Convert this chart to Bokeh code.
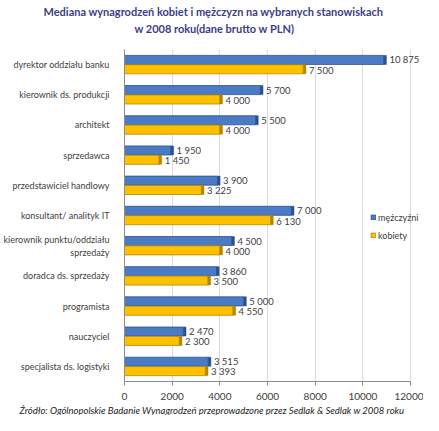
from bokeh.plotting import figure
from bokeh.models import (ColumnDataSource, Range1d, FactorRange, Legend,
                          LegendItem, NumeralTickFormatter, Title)
from bokeh.transform import dodge
from bokeh.core.properties import value
from bokeh.embed import file_html
from bokeh.resources import INLINE

# ---- data ----
categories = [
    "dyrektor oddziału banku",
    "kierownik ds. produkcji",
    "architekt",
    "sprzedawca",
    "przedstawiciel handlowy",
    "konsultant/ analityk IT",
    "kierownik punktu/oddziału\nsprzedaży",
    "doradca ds. sprzedaży",
    "programista",
    "nauczyciel",
    "specjalista ds. logistyki",
]
men = [10875, 5700, 5500, 1950, 3900, 7000, 4500, 3860, 5000, 2470, 3515]
women = [7500, 4000, 4000, 1450, 3225, 6130, 4000, 3500, 4550, 2300, 3393]
series_names = ["mężczyźni", "kobiety"]
x_ticks = [0, 2000, 4000, 6000, 8000, 10000, 12000]
title_lines = ["Mediana wynagrodzeń kobiet i mężczyzn na wybranych stanowiskach",
               "w 2008 roku(dane brutto w PLN)"]
source_text = "Źródło: Ogólnopolskie Badanie Wynagrodzeń przeprowadzone przez Sedlak & Sedlak w 2008 roku"

BLUE = "#4a7bc4"
BLUE_D = "#2b528f"
YEL = "#ffc000"
YEL_D = "#b38600"
FONT = "Lato"

def fmt(v):
    return f"{v:,}".replace(",", " ")

side = 110  # width of simulated 3D side face in data units
src = ColumnDataSource(dict(
    cat=categories,
    men=men, women=women,
    men_side=[v + side for v in men],
    women_side=[v + side for v in women],
    men_lbl=[fmt(v) for v in men],
    women_lbl=[fmt(v) for v in women],
))

# frame spans ~301px; 0..12000 should cover 288px of it
x_end = x_ticks[-1] * 301 / 288

p = figure(width=423, height=415, output_backend="svg", toolbar_location=None,
           title=None,
           x_range=Range1d(0, x_end),
           y_range=FactorRange(*list(reversed(categories)), range_padding=0),
           min_border_left=115, min_border_right=0,
           min_border_top=0, min_border_bottom=0)
p.outline_line_color = None
p.background_fill_color = "white"
p.border_fill_color = "white"

p.ygrid.grid_line_color = None
p.xgrid.grid_line_color = "#dcdcdc"
p.xaxis.ticker = x_ticks
p.xaxis.bounds = (x_ticks[0], x_ticks[-1])
p.xaxis.formatter = NumeralTickFormatter(format="0")
p.xaxis.axis_line_color = "#8c8c8c"
p.xaxis.major_tick_line_color = "#8c8c8c"
p.xaxis.major_tick_out = 4
p.xaxis.major_tick_in = 0
p.xaxis.minor_tick_line_color = None
p.xaxis.major_label_text_font = FONT
p.xaxis.major_label_text_font_size = "10px"
p.xaxis.major_label_text_color = "#404040"
p.xaxis.major_label_standoff = 7

p.yaxis.axis_line_color = "#8c8c8c"
p.yaxis.major_tick_line_color = None
p.yaxis.major_label_text_font = FONT
p.yaxis.major_label_text_font_size = "9px"
p.yaxis.major_label_text_color = "#404040"
p.yaxis.major_label_standoff = 9

off = 0.155
h = 0.3
r_m = p.hbar(y=dodge("cat", off, range=p.y_range), left=0, right="men", height=h,
             source=src, fill_color=BLUE, line_color=BLUE_D, line_width=0.8)
p.hbar(y=dodge("cat", off, range=p.y_range), left="men", right="men_side", height=h,
       source=src, fill_color=BLUE_D, line_color=BLUE_D, line_width=0.5)
r_w = p.hbar(y=dodge("cat", -off, range=p.y_range), left=0, right="women", height=h,
             source=src, fill_color=YEL, line_color=YEL_D, line_width=0.8)
p.hbar(y=dodge("cat", -off, range=p.y_range), left="women", right="women_side", height=h,
       source=src, fill_color=YEL_D, line_color=YEL_D, line_width=0.5)

p.text(x="men_side", y=dodge("cat", off, range=p.y_range), text="men_lbl", source=src,
       x_offset=3, text_baseline="middle", text_align="left",
       text_font=value(FONT), text_font_size="9.5px", text_color="#404040")
p.text(x="women_side", y=dodge("cat", -off - 0.03, range=p.y_range), text="women_lbl", source=src,
       x_offset=3, text_baseline="middle", text_align="left",
       text_font=value(FONT), text_font_size="9.5px", text_color="#404040")

legend = Legend(items=[LegendItem(label=series_names[0], renderers=[r_m]),
                       LegendItem(label=series_names[1], renderers=[r_w])],
                location=(246, 140), orientation="vertical",
                padding=0, spacing=6, margin=0, label_standoff=2,
                glyph_width=6, glyph_height=6, label_height=12,
                label_text_font=FONT, label_text_font_size="9px",
                label_text_color="#404040",
                border_line_color=None, background_fill_alpha=0)
p.add_layout(legend, "center")

# titles: the later added one sits further from the frame; first one is a spacer
p.add_layout(Title(text=" ", standoff=0, text_font=FONT, text_font_size="11px"), "above")
p.add_layout(Title(text=title_lines[1], align="left", offset=10, standoff=0,
                   text_font=FONT, text_font_style="bold", text_font_size="11px",
                   text_color="#3c3c8c"), "above")
p.add_layout(Title(text=title_lines[0], align="left", offset=-81, standoff=4,
                   text_font=FONT, text_font_style="bold", text_font_size="11px",
                   text_color="#3c3c8c"), "above")
p.add_layout(Title(text=source_text, align="left", offset=-105, standoff=0,
                   text_font=FONT, text_font_style="italic", text_font_size="9.5px",
                   text_color="#222222"), "below")

open("out.html", "w").write(file_html(p, INLINE))
